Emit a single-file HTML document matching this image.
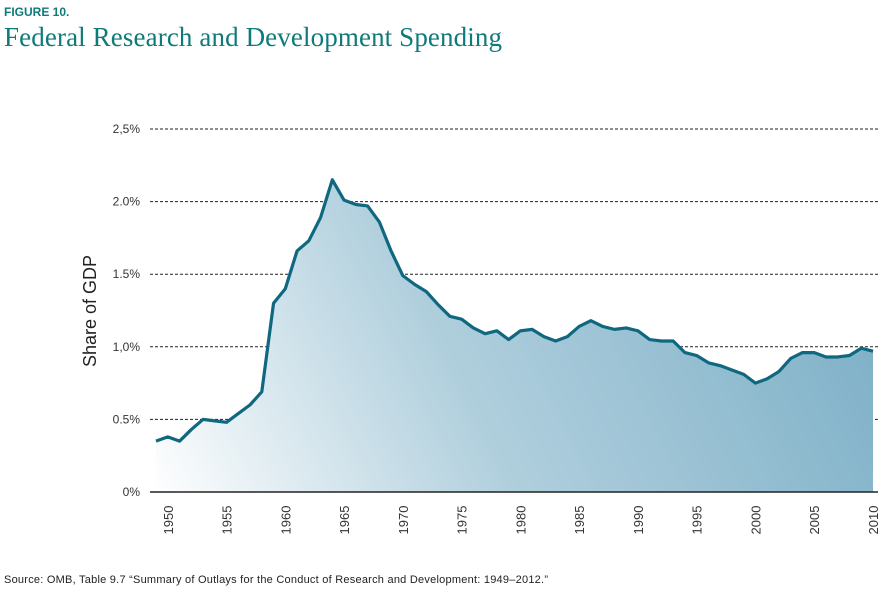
<!DOCTYPE html>
<html><head><meta charset="utf-8"><style>
body{margin:0;background:#fff;width:883px;height:597px;overflow:hidden;font-family:"Liberation Sans",sans-serif}
</style></head><body>
<svg width="883" height="597" xmlns="http://www.w3.org/2000/svg">
<defs><linearGradient id="g" x1="150" y1="492" x2="878" y2="130" gradientUnits="userSpaceOnUse">
<stop offset="0" stop-color="#ffffff"/><stop offset="0.4" stop-color="#b0cfdd"/><stop offset="1" stop-color="#74aac3"/></linearGradient></defs>
<text x="4" y="16" font-size="12" font-weight="bold" fill="#0f7a7a">FIGURE 10.</text>
<text x="4" y="46" font-family="Liberation Serif,serif" font-size="27" fill="#0f7a7a" textLength="498">Federal Research and Development Spending</text>
<text transform="translate(96,311) rotate(-90)" text-anchor="middle" font-size="18" fill="#222">Share of GDP</text>
<g id="grid"></g><g id="area"></g><g id="xl"></g>
<line x1="150" y1="492" x2="878" y2="492" stroke="#222" stroke-width="1.5"/>
<text x="4" y="583" font-size="11" fill="#222" textLength="544">Source: OMB, Table 9.7 “Summary of Outlays for the Conduct of Research and Development: 1949–2012.”</text>
</svg>
<script>
const years=[];for(let y=1949;y<=2010;y++)years.push(y);
const values=[0.35,0.38,0.35,0.43,0.50,0.49,0.48,0.54,0.60,0.69,1.30,1.40,1.66,1.73,1.89,2.15,2.01,1.98,1.97,1.86,1.66,1.49,1.43,1.38,1.29,1.21,1.19,1.13,1.09,1.11,1.05,1.11,1.12,1.07,1.04,1.07,1.14,1.18,1.14,1.12,1.13,1.11,1.05,1.04,1.04,0.96,0.94,0.89,0.87,0.84,0.81,0.75,0.78,0.83,0.92,0.96,0.96,0.93,0.93,0.94,0.99,0.97];
const yTicks=[0,0.5,1.0,1.5,2.0,2.5];
const yTickLabels=["0%","0.5%","1,0%","1.5%","2.0%","2,5%"];
const xTicks=[1950,1955,1960,1965,1970,1975,1980,1985,1990,1995,2000,2005,2010];
const NS="http://www.w3.org/2000/svg";
const X=y=>156+(y-1949)*(873-156)/61, Y=v=>492-v*145.2;
function mk(t,a,p){const e=document.createElementNS(NS,t);for(const k in a)e.setAttribute(k,a[k]);p.appendChild(e);return e;}
const grid=document.getElementById('grid');
yTicks.forEach((t,i)=>{
 if(t>0){const l=mk('line',{x1:150,x2:878,y1:Y(t),y2:Y(t),stroke:'#222','stroke-width':1,'stroke-dasharray':'3,2'},grid);
 
 }
 const tx=mk('text',{x:140,y:Y(t)+4,'text-anchor':'end','font-size':12,fill:'#333'},grid);tx.textContent=yTickLabels[i];
 
 
});
const area=document.getElementById('area');
const pts=years.map((y,i)=>X(y)+','+Y(values[i]));
const poly=mk('polygon',{points:X(years[0])+',492 '+pts.join(' ')+' '+X(years[years.length-1])+',492',fill:'url(#g)'},area);


const line=mk('polyline',{points:pts.join(' '),fill:'none',stroke:'#0f687f','stroke-width':3.2,'stroke-linejoin':'round'},area);


const xl=document.getElementById('xl');
xTicks.forEach(t=>{const tx=mk('text',{transform:`translate(${X(t)+5},520) rotate(-90)`,'text-anchor':'middle','font-size':13,fill:'#333'},xl);tx.textContent=t;
 
 });
</script>
</body></html>
